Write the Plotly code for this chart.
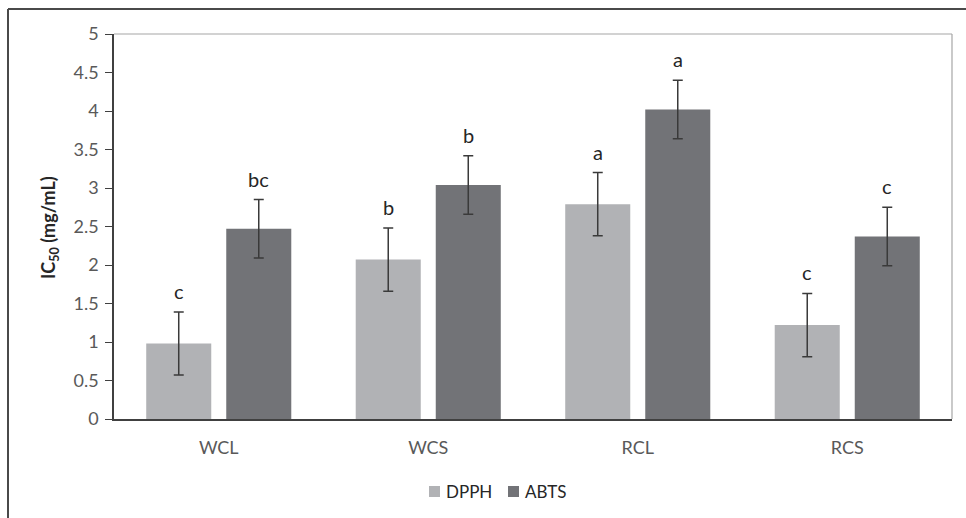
import plotly.graph_objects as go

categories = ["WCL", "WCS", "RCL", "RCS"]
dpph_values = [0.98, 2.07, 2.79, 1.22]
dpph_errors = [0.41, 0.41, 0.41, 0.41]
abts_values = [2.47, 3.04, 4.02, 2.37]
abts_errors = [0.38, 0.38, 0.38, 0.38]
dpph_letters = ["c", "b", "a", "c"]
abts_letters = ["bc", "b", "a", "c"]
y_ticks = [0, 0.5, 1, 1.5, 2, 2.5, 3, 3.5, 4, 4.5, 5]
series_names = ["DPPH", "ABTS"]

FONT = "Lato, 'Open Sans', sans-serif"
DPPH_COLOR = "#b1b2b5"
ABTS_COLOR = "#727377"
ERR_COLOR = "#3a3a3a"

fig = go.Figure()
fig.add_trace(go.Bar(
    name=series_names[0], x=categories, y=dpph_values, marker_color=DPPH_COLOR,
    marker_line_width=0, showlegend=False,
    error_y=dict(type="data", array=dpph_errors, color=ERR_COLOR, thickness=1.5, width=5),
))
fig.add_trace(go.Bar(
    name=series_names[1], x=categories, y=abts_values, marker_color=ABTS_COLOR,
    marker_line_width=0, showlegend=False,
    error_y=dict(type="data", array=abts_errors, color=ERR_COLOR, thickness=1.5, width=5),
))

L, R, T, B = 114, 14, 34, 99
W, H = 966, 518
pw, ph = W - L - R, H - T - B
def px(x):
    return (x - L) / pw
def py(y):
    return (H - B - y) / ph

annotations = []
for i, c in enumerate(categories):
    annotations.append(dict(x=c, y=dpph_values[i] + dpph_errors[i], text=dpph_letters[i],
                            showarrow=False, xshift=-40, yshift=7, yanchor="bottom",
                            font=dict(family=FONT, size=20, color="#262626")))
    annotations.append(dict(x=c, y=abts_values[i] + abts_errors[i], text=abts_letters[i],
                            showarrow=False, xshift=40, yshift=7, yanchor="bottom",
                            font=dict(family=FONT, size=20, color="#262626")))
annotations.append(dict(xref="paper", yref="paper", x=px(50), y=py(228), text="<b>IC<sub>50</sub> (mg/mL)</b>",
                        textangle=-90, showarrow=False, xanchor="center", yanchor="middle",
                        font=dict(family=FONT, size=18, color="#262626")))

shapes = [
    dict(type="line", xref="paper", yref="paper", x0=px(8), x1=px(966), y0=py(9), y1=py(9),
         line=dict(color="#4a4a4a", width=2)),
    dict(type="line", xref="paper", yref="paper", x0=px(8), x1=px(8), y0=py(9), y1=py(518),
         line=dict(color="#4a4a4a", width=2)),
    dict(type="line", xref="paper", yref="paper", x0=0, x1=1, y0=1, y1=1,
         line=dict(color="#a6a6a6", width=1.2)),
    dict(type="line", xref="paper", yref="paper", x0=1, x1=1, y0=0, y1=1,
         line=dict(color="#a6a6a6", width=1.2)),
]

# legend (drawn manually to match the compact Excel-style legend)
legend_items = [(series_names[0], DPPH_COLOR, 429), (series_names[1], ABTS_COLOR, 508)]
for name, col, sx in legend_items:
    shapes.append(dict(type="rect", xref="paper", yref="paper",
                       x0=px(sx), x1=px(sx + 11), y0=py(497), y1=py(486),
                       fillcolor=col, line=dict(width=0)))
    annotations.append(dict(xref="paper", yref="paper", x=px(sx + 15), y=py(491), text=name,
                            showarrow=False, xanchor="left", yanchor="middle",
                            font=dict(family=FONT, size=17, color="#262626")))

fig.update_layout(
    width=W, height=H,
    margin=dict(l=L, r=R, t=T, b=B, autoexpand=False),
    paper_bgcolor="white", plot_bgcolor="white",
    barmode="group", bargap=0.236, bargroupgap=0.1875,
    font=dict(family=FONT, size=18, color="#595959"),
    showlegend=False,
    annotations=annotations,
    shapes=shapes,
    xaxis=dict(showgrid=False, showline=True, linecolor="#404040", linewidth=1.5,
               ticks="", tickfont=dict(size=18, color="#595959"), ticklabelstandoff=12,
               automargin=False),
    yaxis=dict(range=[0, 5], tickvals=y_ticks, ticktext=[f"{v:g}" for v in y_ticks],
               showgrid=False, showline=True, linecolor="#404040", linewidth=1.5,
               ticks="outside", ticklen=7, tickcolor="#404040", ticklabelstandoff=3,
               tickfont=dict(size=18, color="#595959"), zeroline=False, automargin=False),
)

fig.write_html("out.html", config={"displayModeBar": False},
               post_script="document.body.style.margin='0px';")
